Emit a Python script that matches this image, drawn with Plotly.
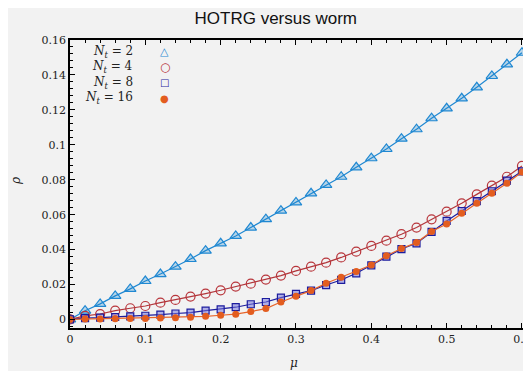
import plotly.graph_objects as go

mu = [0.00, 0.02, 0.04, 0.06, 0.08, 0.10, 0.12, 0.14, 0.16, 0.18,
      0.20, 0.22, 0.24, 0.26, 0.28, 0.30, 0.32, 0.34, 0.36, 0.38,
      0.40, 0.42, 0.44, 0.46, 0.48, 0.50, 0.52, 0.54, 0.56, 0.58, 0.60]

rho_nt2 = [0.0000, 0.0050, 0.0089, 0.0135, 0.0175, 0.0220, 0.0260, 0.0302, 0.0346, 0.0394,
           0.0436, 0.0478, 0.0526, 0.0574, 0.0623, 0.0670, 0.0722, 0.0770, 0.0817, 0.0871,
           0.0923, 0.0976, 0.1035, 0.1089, 0.1152, 0.1209, 0.1266, 0.1329, 0.1394, 0.1461, 0.1527]
rho_nt4 = [0.0000, 0.0020, 0.0031, 0.0050, 0.0064, 0.0077, 0.0096, 0.0112, 0.0131, 0.0148,
           0.0167, 0.0188, 0.0205, 0.0228, 0.0251, 0.0278, 0.0302, 0.0325, 0.0355, 0.0388,
           0.0421, 0.0451, 0.0488, 0.0526, 0.0573, 0.0617, 0.0665, 0.0716, 0.0766, 0.0817, 0.0879]
rho_nt8 = [0.0000, 0.0008, 0.0010, 0.0014, 0.0018, 0.0021, 0.0028, 0.0034, 0.0039, 0.0050,
           0.0058, 0.0070, 0.0087, 0.0100, 0.0125, 0.0146, 0.0165, 0.0197, 0.0226, 0.0264,
           0.0310, 0.0360, 0.0403, 0.0436, 0.0501, 0.0564, 0.0621, 0.0678, 0.0734, 0.0795, 0.0848]
rho_nt16 = [0.0000, 0.0002, 0.0003, 0.0004, 0.0005, 0.0006, 0.0008, 0.0010, 0.0013, 0.0018,
            0.0024, 0.0030, 0.0045, 0.0062, 0.0100, 0.0133, 0.0165, 0.0207, 0.0241, 0.0274,
            0.0312, 0.0365, 0.0406, 0.0440, 0.0503, 0.0547, 0.0608, 0.0665, 0.0722, 0.0780, 0.0844]

x_ticks = [0, 0.1, 0.2, 0.3, 0.4, 0.5, 0.6]
x_tick_text = ["0", "0.1", "0.2", "0.3", "0.4", "0.5", "0.6"]
y_ticks = [0, 0.02, 0.04, 0.06, 0.08, 0.1, 0.12, 0.14, 0.16]
y_tick_text = ["0", "0.02", "0.04", "0.06", "0.08", "0.1", "0.12", "0.14", "0.16"]

labels = ["2", "4", "8", "16"]

SERIF = "DejaVu Serif"

fig = go.Figure()
fig.add_trace(go.Scatter(
    x=mu, y=rho_nt2, mode="lines+markers", name="Nt=2",
    line=dict(color="#1f88d2", width=1.2),
    marker=dict(symbol="triangle-up", size=10, color="rgba(31,136,210,0.28)",
                line=dict(color="#1f88d2", width=1.2))))
fig.add_trace(go.Scatter(
    x=mu, y=rho_nt4, mode="lines+markers", name="Nt=4",
    line=dict(color="#b2353a", width=1.2),
    marker=dict(symbol="circle-open", size=9, color="#b8363c",
                line=dict(width=1.2))))
fig.add_trace(go.Scatter(
    x=mu, y=rho_nt8, mode="lines+markers", name="Nt=8",
    line=dict(color="#1c1c9e", width=1.2),
    marker=dict(symbol="square", size=7, color="rgba(120,120,220,0.55)",
                line=dict(color="#1c1c9e", width=1.2))))
fig.add_trace(go.Scatter(
    x=mu, y=rho_nt16, mode="lines+markers", name="Nt=16",
    line=dict(color="#e8652b", width=1.2),
    marker=dict(symbol="circle", size=7, color="#e35d1f")))

axis_common = dict(
    showline=True, linecolor="black", linewidth=1.5, mirror="allticks",
    ticks="inside", ticklen=5, tickwidth=1, tickcolor="black",
    showgrid=False, zeroline=False, automargin=False,
    tickfont=dict(family=SERIF, size=11, color="#222"),
)
fig.update_xaxes(
    range=[0, 0.608], tickvals=x_ticks, ticktext=x_tick_text,
    minor=dict(ticks="inside", ticklen=3, dtick=0.02, tick0=0, tickcolor="black", showgrid=False),
    **axis_common)
fig.update_yaxes(
    range=[-0.0049, 0.16], tickvals=y_ticks, ticktext=y_tick_text,
    minor=dict(ticks="inside", ticklen=3, dtick=0.004, tick0=0, tickcolor="black", showgrid=False),
    **axis_common)

# Axis titles
fig.add_annotation(x=0.49, y=-0.12, xref="paper", yref="paper", xanchor="center", yanchor="middle",
                   text="<i>μ</i>", showarrow=False, font=dict(family=SERIF, size=12, color="#222"))
fig.add_annotation(x=-0.118, y=0.51, xref="paper", yref="paper", xanchor="center", yanchor="middle",
                   text="<i>ρ</i>", showarrow=False, textangle=-90,
                   font=dict(family=SERIF, size=12, color="#222"))

# Legend (text on the left, symbol on the right)
leg_y = [0.959, 0.905, 0.852, 0.798]
leg_sym = ["△", "○", "□", "●"]
leg_col = ["#1f88d2", "#b8363c", "#1c1c9e", "#e35d1f"]
leg_size = [11, 12, 10, 10]
for lab, yy, sym, col, sz in zip(labels, leg_y, leg_sym, leg_col, leg_size):
    fig.add_annotation(
        x=0.142, y=yy, xref="paper", yref="paper", xanchor="right", yanchor="middle",
        text="<i>N</i><sub><i>t</i></sub> = " + lab, showarrow=False,
        font=dict(family=SERIF, size=12, color="#222"))
    fig.add_annotation(
        x=0.207, y=yy, xref="paper", yref="paper", xanchor="center", yanchor="middle",
        text=sym, showarrow=False, font=dict(family="DejaVu Sans", size=sz, color=col))

# The page body adds an 8px offset, so the figure is sized to fill the rest of the window.
fig.update_layout(
    width=523, height=363,
    margin=dict(l=62, r=3, t=32, b=43),
    paper_bgcolor="#f2f2f2", plot_bgcolor="#f2f2f2",
    showlegend=False,
    title=dict(text="HOTRG versus worm", x=0.512, xanchor="center", y=0.972, yanchor="middle",
               font=dict(family="Liberation Sans", size=17, color="#111")),
)

fig.write_html("out.html")
